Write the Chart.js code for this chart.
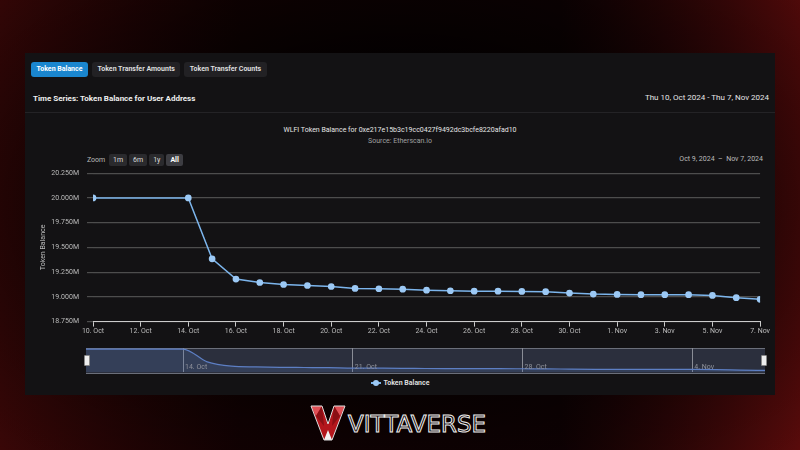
<!DOCTYPE html>
<html>
<head>
<meta charset="utf-8">
<script src="https://cdn.jsdelivr.net/npm/chart.js@4.4.1/dist/chart.umd.min.js"></script>
<style>
  html, body { margin: 0; padding: 0; }
  body {
    width: 800px; height: 450px; overflow: hidden; position: relative;
    font-family: Roboto, "Noto Sans", sans-serif;
    background:
      radial-gradient(ellipse 70% 80% at 50% 45%, rgba(0,0,0,0.85) 40%, rgba(0,0,0,0) 100%),
      linear-gradient(90deg, #3a0707 0%, #1a0203 30%, #140204 70%, #5a0b0b 100%);
  }
  .panel {
    position: absolute; left: 25px; top: 53px; width: 750px; height: 342px;
    background: #131214;
  }
  .tabs { position: absolute; left: 6px; top: 9px; display: flex; }
  .tab {
    display: block; font-size: 7px; font-weight: 700; color: #ddd;
    background: #222124; border-radius: 3px; padding: 0 5.5px; margin-right: 4px;
    height: 15px; line-height: 15px;
  }
  .tab.on { background: #1a86cf; color: #fff; }
  .hdr { position: absolute; left: 8px; top: 41px; font-size: 8px; font-weight: 700; color: #eee; }
  .dates { position: absolute; right: 6px; top: 40px; font-size: 8px; color: #e4e4e4; }
  .sep { position: absolute; left: 0; right: 0; top: 59px; height: 1px; background: #242326; }
  .ctitle { position: absolute; left: 0; width: 750px; top: 73px; text-align: center; font-size: 7px; color: #e6e6e6; }
  .csub { position: absolute; left: 0; width: 750px; top: 84px; text-align: center; font-size: 7px; color: #a0a0a0; }
  .zoom { position: absolute; left: 62px; top: 101px; font-size: 7px; color: #bbb; }
  .zoom span.b { display: inline-block; background: #2a2a2d; color: #ddd; padding: 2px 4px; margin-left: 2px; border-radius: 2px; }
  .zoom span.b.on { background: #3d3d42; color: #fff; font-weight: 700; }
  .range { position: absolute; right: 12px; top: 102px; font-size: 7px; color: #bbb; }
  #main { position: absolute; left: 5px; top: 108px; }
  .navbox { position: absolute; left: 61px; top: 295px; width: 679px; height: 24px;
    background: #2b2f3d; border-top: 1px solid #6b6f7a; border-bottom: 1px solid #6b6f7a; }
  #nav { position: absolute; left: 61px; top: 295px; }
  .handle { position: absolute; top: 302px; width: 4px; height: 9px; background: #eee; border: 1px solid #888; border-radius: 1px; }
  .legend { position: absolute; left: 0; width: 750px; top: 326px; text-align: center; font-size: 7px; font-weight: 700; color: #ddd; }
  .legend i { display: inline-block; width: 10px; height: 1.5px; background: #7cb5ec; vertical-align: middle; position: relative; margin-right: 3px; }
  .legend i::after { content: ""; position: absolute; left: 2px; top: -2.5px; width: 6px; height: 6px; border-radius: 50%; background: #9cc9f5; }
  .logo { position: absolute; left: 310px; top: 404px; width: 190px; height: 40px; }
  .logo .word { position: absolute; left: 38px; top: 7px; font-family: "DejaVu Sans", sans-serif; font-size: 23px; letter-spacing: 0px;
    color: transparent; -webkit-text-stroke: 1px #eee; font-weight: 400; }
</style>
</head>
<body>
<div class="panel">
  <div class="tabs"><span class="tab on">Token Balance</span><span class="tab">Token Transfer Amounts</span><span class="tab">Token Transfer Counts</span></div>
  <div class="hdr">Time Series: Token Balance for User Address</div>
  <div class="dates">Thu 10, Oct 2024 - Thu 7, Nov 2024</div>
  <div class="sep"></div>
  <div class="ctitle">WLFI Token Balance for 0xe217e15b3c19cc0427f9492dc3bcfe8220afad10</div>
  <div class="csub">Source: Etherscan.io</div>
  <div class="zoom">Zoom <span class="b">1m</span><span class="b">6m</span><span class="b">1y</span><span class="b on">All</span></div>
  <div class="range">Oct 9, 2024 &nbsp;&ndash;&nbsp; Nov 7, 2024</div>
  <canvas id="main" width="740" height="174" style="width:740px;height:174px"></canvas>
  <div class="navbox"></div>
  <canvas id="nav" width="679" height="24" style="width:679px;height:24px"></canvas>
  <div class="handle" style="left:59px"></div>
  <div class="handle" style="left:736px"></div>
  <div class="legend"><i></i>Token Balance</div>
</div>
<div class="logo">
  <svg width="36" height="38" viewBox="0 0 36 38" style="position:absolute;left:0;top:0">
    <polygon points="1,2 12,2 18,20 24,2 35,2 22,36 14,36" fill="#b3161c"/>
    <polygon points="1,2 12,2 6,12" fill="#e05056"/>
    <polygon points="24,2 35,2 30,12" fill="#e05056"/>
    <polygon points="6,12 12,2 14,22" fill="#8a0f14"/>
    <polygon points="30,12 24,2 22,22" fill="#8a0f14"/>
    <polygon points="14,36 18,26 22,36" fill="#f2f2f2"/>
    <polygon points="1,2 12,2 18,20 24,2 35,2 22,36 14,36" fill="none" stroke="#ddd" stroke-width="1"/>
  </svg>
  <div class="word">VITTAVERSE</div>
</div>

<script>
// days since 10 Oct 2024
const days = [0, 4, 5, 6, 7, 8, 9, 10, 11, 12, 13, 14, 15, 16, 17, 18, 19, 20, 21, 22, 23, 24, 25, 26, 27, 28];
// token balance in millions
const balance = [20.000, 20.000, 19.385, 19.180, 19.145, 19.125, 19.115, 19.105, 19.085, 19.082, 19.078,
  19.068, 19.062, 19.058, 19.058, 19.055, 19.052, 19.038, 19.028, 19.025, 19.022, 19.022, 19.022,
  19.015, 18.992, 18.975];
const xTickLabels = ['10. Oct', '12. Oct', '14. Oct', '16. Oct', '18. Oct', '20. Oct', '22. Oct', '24. Oct',
  '26. Oct', '28. Oct', '30. Oct', '1. Nov', '3. Nov', '5. Nov', '7. Nov'];
const navTicks = [4, 11, 18, 25];
const navTickLabels = ['14. Oct', '21. Oct', '28. Oct', '4. Nov'];

const points = days.map((d, i) => ({ x: d, y: balance[i] }));

new Chart(document.getElementById('main').getContext('2d'), {
  type: 'line',
  data: {
    datasets: [{
      label: 'Token Balance',
      data: points,
      borderColor: '#7cb5ec',
      borderWidth: 1.5,
      pointBackgroundColor: '#9cc9f5',
      pointBorderColor: '#9cc9f5',
      pointRadius: 2.6,
      tension: 0
    }]
  },
  options: {
    responsive: false,
    animation: false,
    layout: { padding: { top: 6, right: 6, left: 0, bottom: 0 } },
    plugins: { legend: { display: false }, tooltip: { enabled: false } },
    scales: {
      x: {
        type: 'linear', min: 0, max: 28,
        ticks: {
          stepSize: 2, color: '#bbb', font: { size: 7, family: 'Roboto' }, padding: 0, maxRotation: 0,
          callback: v => xTickLabels[v / 2]
        },
        grid: { drawOnChartArea: false, color: '#cccccc', tickLength: 5 },
        border: { color: '#cccccc' }
      },
      y: {
        min: 18.75, max: 20.25,
        afterFit: s => { s.width = 63; },
        title: { display: true, text: 'Token Balance', color: '#bbb', font: { size: 7, family: 'Roboto' }, padding: { top: 9, bottom: 2 } },
        ticks: {
          stepSize: 0.25, color: '#bbb', font: { size: 7, family: 'Roboto' }, padding: 8,
          callback: v => v.toFixed(3) + 'M'
        },
        grid: { color: '#4d4d4d', lineWidth: 1.2, tickLength: 6 },
        border: { display: false }
      }
    }
  }
});

new Chart(document.getElementById('nav').getContext('2d'), {
  type: 'line',
  data: {
    datasets: [{
      data: points,
      borderColor: '#5d7fc4',
      borderWidth: 1.2,
      backgroundColor: 'rgba(80,110,170,0.25)',
      fill: 'start',
      pointRadius: 0,
      cubicInterpolationMode: 'monotone'
    }]
  },
  options: {
    responsive: false,
    animation: false,
    layout: { padding: 0 },
    plugins: { legend: { display: false }, tooltip: { enabled: false } },
    scales: {
      x: {
        type: 'linear', min: 0, max: 28,
        afterBuildTicks: s => { s.ticks = navTicks.map(v => ({ value: v })); },
        ticks: { display: false },
        grid: { color: '#8a8d96', drawTicks: false },
        border: { display: false }
      },
      y: { display: false, min: 18.9, max: 20.05 }
    }
  },
  plugins: [{
    id: 'navLabels',
    afterDraw(chart) {
      const c = chart.ctx, xs = chart.scales.x, a = chart.chartArea;
      c.save();
      c.fillStyle = '#8f929b';
      c.font = '7px Roboto';
      c.textBaseline = 'bottom';
      navTicks.forEach((v, i) => c.fillText(navTickLabels[i], xs.getPixelForValue(v) + 2, a.bottom - 1));
      c.restore();
    }
  }]
});
</script>
</body>
</html>
